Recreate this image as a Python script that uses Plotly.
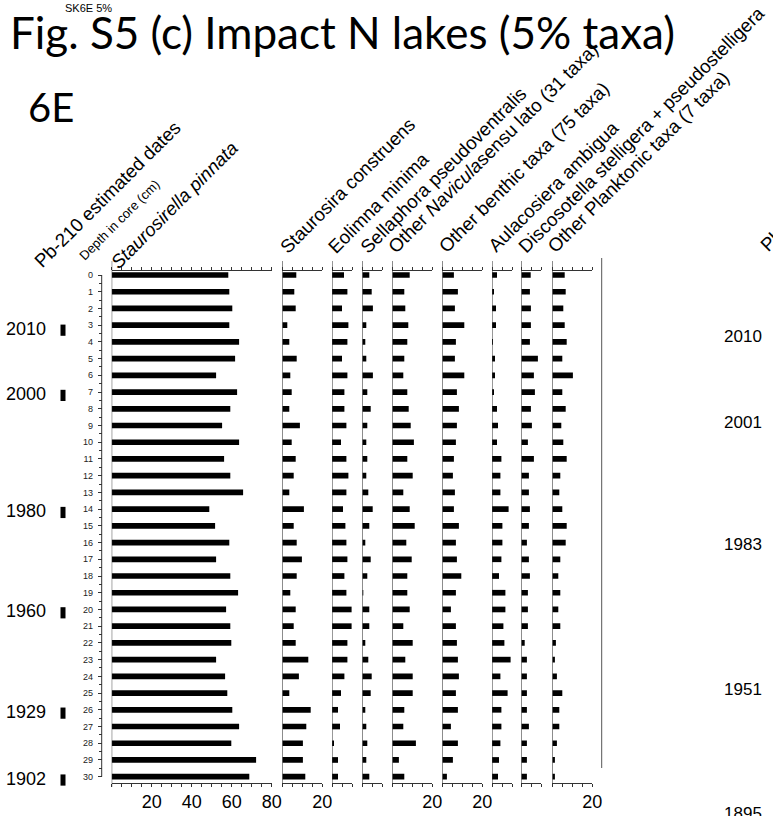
import plotly.graph_objects as go

# ---------------- data ----------------
depth_cm = list(range(31))

staurosirella_pinnata = [58.3, 58.8, 60.3, 58.8, 63.7, 61.7, 52.2, 62.7, 59.3, 55.2, 63.7, 56.2, 59.3, 65.7, 48.8,
                         51.7, 58.8, 52.2, 59.3, 63.2, 57.2, 59.3, 59.8, 52.2, 56.7, 57.8, 60.3, 63.7, 59.8, 72.2, 68.8]
staurosira_construens = [7.0, 6.0, 6.7, 2.5, 3.5, 7.2, 4.0, 4.7, 3.5, 8.8, 4.7, 6.7, 5.7, 3.5, 10.8,
                         5.7, 7.2, 9.8, 7.2, 4.0, 6.7, 5.7, 6.7, 13.0, 8.3, 3.5, 14.2, 12.0, 10.3, 10.3, 11.5]
eolimna_minima = [6.0, 7.7, 5.0, 8.2, 7.7, 5.0, 7.7, 6.2, 6.2, 7.2, 4.5, 7.2, 8.2, 7.2, 5.5,
                  6.7, 7.2, 7.7, 6.2, 7.2, 9.8, 9.8, 7.7, 7.7, 6.2, 4.5, 3.0, 4.0, 0.8, 3.0, 3.0]
sellaphora_pseudoventralis = [3.5, 4.7, 5.3, 2.0, 1.5, 2.0, 5.3, 2.5, 4.2, 2.5, 2.0, 2.5, 2.0, 3.0, 5.2,
                              3.5, 1.5, 4.2, 2.5, 0.5, 3.5, 3.5, 1.5, 3.0, 4.7, 4.2, 1.5, 2.0, 2.5, 2.0, 3.5]
other_navicula = [8.7, 6.0, 6.5, 8.0, 7.5, 6.0, 5.5, 7.5, 8.2, 9.2, 10.8, 7.5, 10.2, 5.5, 8.7,
                  11.2, 7.0, 9.7, 7.5, 7.5, 8.7, 5.5, 10.2, 6.5, 10.2, 10.2, 6.0, 5.5, 11.8, 3.3, 6.0]
other_benthic = [5.8, 7.8, 6.3, 11.0, 6.8, 6.3, 11.0, 7.3, 8.3, 7.3, 6.8, 5.8, 5.3, 6.3, 5.8,
                 8.3, 6.8, 7.3, 9.5, 6.8, 4.3, 6.8, 7.3, 7.8, 8.3, 6.8, 7.8, 4.3, 7.8, 5.3, 2.3]
aulacosiera_ambigua = [2.5, 0.8, 2.0, 2.0, 0.3, 1.5, 1.5, 0.8, 2.5, 3.0, 2.5, 4.7, 4.2, 4.2, 8.3,
                       5.2, 5.2, 4.7, 3.5, 6.7, 6.7, 5.7, 6.2, 9.3, 4.2, 7.8, 4.7, 4.7, 4.2, 3.5, 3.0]
discostella = [4.7, 4.3, 4.8, 4.8, 4.3, 8.3, 6.3, 6.8, 4.8, 5.3, 3.3, 6.3, 3.8, 3.8, 4.3,
               3.8, 2.8, 3.8, 4.3, 3.3, 3.3, 3.3, 1.7, 2.8, 2.8, 2.8, 2.8, 3.8, 2.8, 2.8, 2.8]
other_planktonic = [6.2, 6.7, 5.5, 6.2, 7.2, 5.0, 10.3, 5.0, 6.7, 4.5, 5.5, 7.2, 4.0, 3.5, 5.0,
                    7.2, 6.7, 4.0, 3.0, 4.0, 3.0, 4.0, 1.8, 1.3, 2.3, 5.0, 3.5, 3.5, 2.3, 1.3, 1.3]

taxa_labels = ["<i>Staurosirella pinnata</i>", "Staurosira construens", "Eolimna minima",
               "Sellaphora pseudoventralis", "Other <i>Navicula</i>sensu lato (31 taxa)",
               "Other benthic taxa (75 taxa)", "Aulacosiera ambigua",
               "Discosotella stelligera + pseudostelligera", "Other Planktonic taxa (7 taxa)"]
taxa_values = [staurosirella_pinnata, staurosira_construens, eolimna_minima, sellaphora_pseudoventralis,
               other_navicula, other_benthic, aulacosiera_ambigua, discostella, other_planktonic]
axis_max = [80, 20, 10, 10, 20, 20, 10, 10, 20]

left_dates = ["2010", "2000", "1980", "1960", "1929", "1902"]
left_date_depths = [3.3, 7.2, 14.2, 20.2, 26.2, 30.2]
right_dates = ["2010", "2001", "1983", "1951", "1895"]
right_date_depths = [3.75, 8.9, 16.2, 24.85, 32.25]

# ---------------- layout helpers ----------------
W, H = 773, 816
def fx(px): return px / W
def fy(py): return 1 - py / H

PX_PER_PCT = 2.0
Y0_PX, PX_PER_CM = 275.0, 16.723
def depth_at(py): return (py - Y0_PX) / PX_PER_CM

panel_left_px = [111.7, 282.3, 332.0, 362.3, 392.3, 442.3, 492.0, 521.3, 552.3]
label_start_px = [(116, 272), (286, 257), (334, 257), (366, 257), (394, 256),
                  (444, 256), (494, 255), (524, 256), (554, 256)]

AXIS_TOP, AXIS_BOT = 271.0, 782.5
FONT = "Liberation Sans, Arial, sans-serif"
LINE_C = "#333333"
LABEL_SIZE = 18.7

fig = go.Figure()
layout = dict(
    width=W, height=H, margin=dict(l=0, r=0, t=0, b=0, autoexpand=False),
    paper_bgcolor="white", plot_bgcolor="rgba(0,0,0,0)",
    showlegend=False, barmode="overlay",
    font=dict(family=FONT, color="black"),
)

layout["yaxis"] = dict(
    domain=[fy(AXIS_BOT), fy(AXIS_TOP)],
    range=[depth_at(AXIS_BOT), depth_at(AXIS_TOP)],
    anchor="free", position=fx(101.7), side="left",
    tickmode="array", tickvals=depth_cm, ticktext=[str(d) for d in depth_cm],
    ticks="outside", ticklen=4, tickcolor=LINE_C, tickwidth=1,
    minor=dict(tickvals=[d + 0.5 for d in depth_cm[:-1]], ticks="outside", ticklen=3, tickcolor=LINE_C),
    tickfont=dict(size=9, color="#222"), ticklabelstandoff=3,
    showline=False, showgrid=False, zeroline=False, automargin=False,
)
# invisible depth axis reaching the bottom edge (for the right-hand date column)
layout["yaxis2"] = dict(
    domain=[0, fy(AXIS_TOP)], range=[depth_at(H), depth_at(AXIS_TOP)],
    anchor="x11", visible=False, automargin=False,
)

shapes = []
annotations = []

for i, (vals, mx, left) in enumerate(zip(taxa_values, axis_max, panel_left_px)):
    ax_id = "" if i == 0 else str(i + 1)
    tickvals = list(range(0, mx + 1, 5))
    ticktext = [str(v) if (v % 20 == 0 and v > 0) else "" for v in tickvals]
    layout["xaxis" + ax_id] = dict(
        domain=[fx(left), fx(left + mx * PX_PER_PCT)], range=[0, mx], anchor="y",
        tickmode="array", tickvals=tickvals, ticktext=ticktext,
        ticks="outside", ticklen=3, tickcolor=LINE_C, tickwidth=1,
        showline=True, linecolor=LINE_C, linewidth=1, mirror="ticks",
        tickfont=dict(size=18, color="black"), ticklabelstandoff=0,
        showgrid=False, zeroline=False, automargin=False,
    )
    fig.add_trace(go.Bar(
        x=vals, y=depth_cm, orientation="h", width=0.34,
        marker=dict(color="black", line=dict(width=0)),
        xaxis="x" + ax_id, yaxis="y", hoverinfo="x+y",
    ))
    shapes.append(dict(type="line", xref="x" + ax_id, yref="paper", x0=0, x1=0,
                       y0=fy(787), y1=fy(261), line=dict(color=LINE_C, width=1)))

# depth axis line (0 to 30 cm)
shapes.append(dict(type="line", xref="paper", yref="y", x0=fx(101.7), x1=fx(101.7),
                   y0=depth_cm[0], y1=depth_cm[-1], line=dict(color=LINE_C, width=1)))
# vertical line of the next (cut) panel
shapes.append(dict(type="line", xref="paper", yref="paper", x0=fx(601.7), x1=fx(601.7),
                   y0=fy(768), y1=fy(258), line=dict(color="#555555", width=1)))

# date column axes (pixel units)
layout["xaxis10"] = dict(domain=[0, fx(101)], range=[0, 101], anchor="y", visible=False)
layout["xaxis11"] = dict(domain=[fx(602), 1], range=[602, W], anchor="y2", visible=False)

fig.add_trace(go.Scatter(
    x=[46] * len(left_dates), y=left_date_depths, text=left_dates, mode="text",
    textposition="middle left", textfont=dict(size=18, family=FONT, color="black"),
    xaxis="x10", yaxis="y", cliponaxis=False, hoverinfo="skip"))
fig.add_trace(go.Scatter(
    x=[63] * len(left_dates), y=left_date_depths, mode="markers",
    marker=dict(symbol="line-ns", size=8, line=dict(width=5, color="black")),
    xaxis="x10", yaxis="y", cliponaxis=False, hoverinfo="skip"))
fig.add_trace(go.Scatter(
    x=[743] * len(right_dates), y=right_date_depths, text=right_dates, mode="text",
    textposition="middle center", textfont=dict(size=17, family=FONT, color="black"),
    xaxis="x11", yaxis="y2", cliponaxis=False, hoverinfo="skip"))

# rotated labels, anchored at the start of their baseline
def rotated_label(text, xs, ys, size):
    hbox = size * 1.117 + 2
    desc = size * 0.212 + 1
    off = desc * 0.7071
    annotations.append(dict(
        text=text, xref="paper", yref="paper",
        x=fx(xs + off - 0.7071 * hbox), y=fy(ys + off),
        xanchor="left", yanchor="bottom", textangle=-45, showarrow=False,
        font=dict(size=size, family=FONT, color="black")))

rotated_label("Pb-210 estimated dates", 40, 271, LABEL_SIZE)
rotated_label("Depth in core (cm)", 83, 263, 13)
for lbl, (xs, ys) in zip(taxa_labels, label_start_px):
    rotated_label(lbl, xs, ys, LABEL_SIZE)
rotated_label("Pb-210 estimated dates", 766, 255, LABEL_SIZE)

# titles
annotations.append(dict(text="Fig. S5 (c) Impact N lakes (5% taxa)", xref="paper", yref="paper",
                        x=fx(8), y=fy(32), xanchor="left", yanchor="middle", showarrow=False,
                        font=dict(size=44, family="Lato, Open Sans, sans-serif", color="black")))
annotations.append(dict(text="6E", xref="paper", yref="paper",
                        x=fx(26), y=fy(107), xanchor="left", yanchor="middle", showarrow=False,
                        font=dict(size=40, family="Lato, Open Sans, sans-serif", color="black")))
annotations.append(dict(text="SK6E 5%", xref="paper", yref="paper",
                        x=fx(88), y=fy(8), xanchor="center", yanchor="middle", showarrow=False,
                        font=dict(size=11, family=FONT, color="black")))

layout["shapes"] = shapes
layout["annotations"] = annotations
fig.update_layout(**layout)
fig.write_html("out.html", config={"displayModeBar": False},
               post_script="document.body.style.margin='0';document.body.style.padding='0';")
